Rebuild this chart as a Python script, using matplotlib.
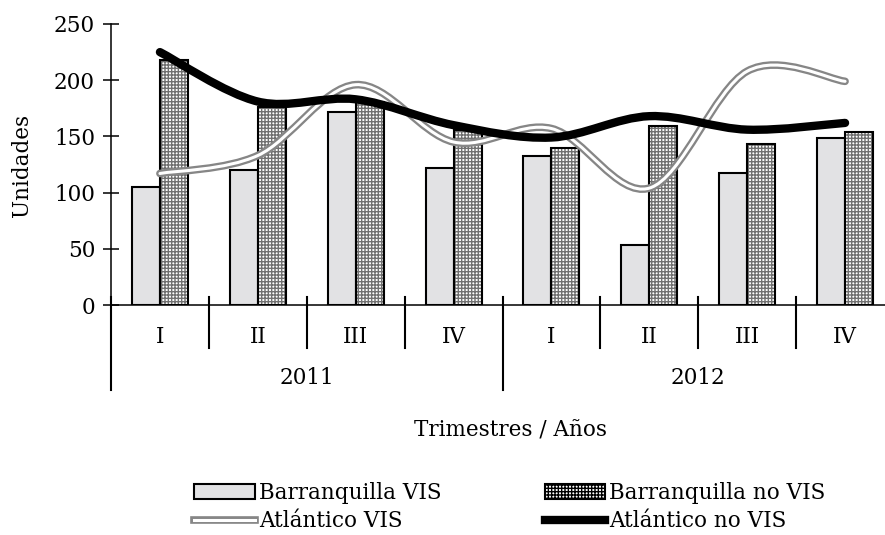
import matplotlib.pyplot as plt
from matplotlib.path import Path
from matplotlib.patches import PathPatch, Patch
from matplotlib.lines import Line2D
import numpy as np

# data
trimestres = ['I', 'II', 'III', 'IV', 'I', 'II', 'III', 'IV']
anios = ['2011', '2012']
barranquilla_vis = [105, 120, 172, 122, 133, 53, 117, 149]
barranquilla_no_vis = [218, 176, 181, 156, 140, 159, 143, 154]
atlantico_vis = [117, 133, 196, 145, 157, 104, 208, 199]
atlantico_no_vis = [225, 181, 183, 160, 149, 168, 156, 162]

axis_font = 'DejaVu Serif'
axis_size = 15.5


def smooth_path(xs, ys):
    # bezier curve through the points, like a spreadsheet "smoothed line"
    pts = list(zip(xs, ys))
    n = len(pts)
    verts = [pts[0]]
    codes = [Path.MOVETO]
    for i in range(n - 1):
        p0 = np.array(pts[max(i - 1, 0)])
        p1 = np.array(pts[i])
        p2 = np.array(pts[i + 1])
        p3 = np.array(pts[min(i + 2, n - 1)])
        c1 = p1 + (p2 - p0) / 6
        c2 = p2 - (p3 - p1) / 6
        verts += [tuple(c1), tuple(c2), tuple(p2)]
        codes += [Path.CURVE4] * 3
    return Path(verts, codes)


fig = plt.figure(figsize=(8.85, 5.35), dpi=100)
ax = fig.add_axes([111 / 885, 1 - 305 / 535, 783 / 885, 281 / 535])

x = np.arange(len(trimestres))
w = 0.286

# Barranquilla VIS (marble look -> light gray)
ax.bar(x - w / 2, barranquilla_vis, w, color='#e2e2e4', edgecolor='black',
       linewidth=1.5, zorder=2)
# Barranquilla no VIS (dotted pattern)
ax.bar(x + w / 2, barranquilla_no_vis, w, color='white', edgecolor='#707070',
       hatch='+++++', linewidth=0, zorder=2)
ax.bar(x + w / 2, barranquilla_no_vis, w, color='none', edgecolor='black',
       linewidth=1.5, zorder=3)

# Atlantico VIS: double gray line
p = smooth_path(x, atlantico_vis)
ax.add_patch(PathPatch(p, facecolor='none', edgecolor='#868686', lw=5.5,
                       capstyle='round', zorder=4))
ax.add_patch(PathPatch(p, facecolor='none', edgecolor='white', lw=2.2,
                       capstyle='round', zorder=5))
# Atlantico no VIS: thick black line
p2 = smooth_path(x, atlantico_no_vis)
ax.add_patch(PathPatch(p2, facecolor='none', edgecolor='black', lw=6,
                       capstyle='round', zorder=6))

ax.set_xlim(-0.5, 7.5)
ax.set_ylim(0, 250)
ax.set_yticks([0, 50, 100, 150, 200, 250])
ax.tick_params(axis='y', direction='inout', length=11, width=1.1,
               labelsize=axis_size, pad=6)
for lab in ax.get_yticklabels():
    lab.set_family(axis_font)
ax.set_xticks([])
for s in ['top', 'right']:
    ax.spines[s].set_visible(False)
ax.spines['left'].set_linewidth(1.1)
ax.spines['bottom'].set_linewidth(1.1)

# multi level category axis
trans = ax.get_xaxis_transform()
for i in range(len(trimestres) + 1):
    xs = i - 0.5
    bottom = -0.302 if i % 4 == 0 else -0.153
    ax.plot([xs, xs], [0.028, bottom], color='black', lw=1.5,
            transform=trans, clip_on=False)
for i, t in enumerate(trimestres):
    ax.text(i, -0.114, t, transform=trans, ha='center', va='center',
            fontsize=axis_size, family=axis_font)
for j, a in enumerate(anios):
    ax.text(j * 4 + 1.5, -0.26, a, transform=trans, ha='center', va='center',
            fontsize=axis_size, family=axis_font)

ax.text(0.51, -0.445, 'Trimestres / Años', transform=ax.transAxes,
        ha='center', va='center', fontsize=axis_size, family=axis_font)
fig.text(22 / 885, 1 - 165 / 535, 'Unidades', rotation=90, ha='center',
         va='center', fontsize=axis_size, family=axis_font)

# legend (row-wise order: column 1 = first and third entry)
h1 = Patch(facecolor='#e2e2e4', edgecolor='black', linewidth=1.5)
h2 = Patch(facecolor='white', edgecolor='black', hatch='+++++', linewidth=1.5)
h3 = (Line2D([], [], color='#868686', lw=5.5), Line2D([], [], color='white', lw=2.2))
h4 = Line2D([], [], color='black', lw=6)
fig.legend([h1, h3, h2, h4],
           ['Barranquilla VIS', 'Atlántico VIS', 'Barranquilla no VIS', 'Atlántico no VIS'],
           ncol=2, loc='center', bbox_to_anchor=(510 / 885, 1 - 507 / 535),
           frameon=False, prop={'family': axis_font, 'size': axis_size},
           handlelength=2.8, handletextpad=0.2, columnspacing=4.8,
           labelspacing=0.3)

fig.savefig('out.png', dpi=100)
